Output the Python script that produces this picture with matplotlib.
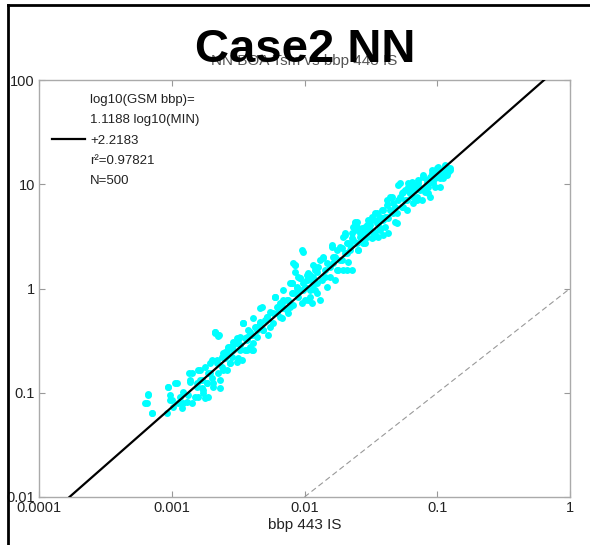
"""Case2 NN: GSM bbp vs in-situ bbp 443, log-log scatter with fit."""

import numpy as np
import matplotlib
matplotlib.use("Agg")
import matplotlib.pyplot as plt
from matplotlib.lines import Line2D

plt.rcParams["font.family"] = ["Liberation Sans", "DejaVu Sans"]

# as log10 values (x = bbp 443 IS, y = GSM bbp)
log_is_a = [-3.201, -3.176, -3.151, -3.038, -3.026, -3.013, -2.963, -2.988, -2.938, -2.913,
            -2.875, -2.863, -2.850, -2.812, -2.800, -2.787, -2.775, -2.762, -2.750, -2.737,
            -2.724, -2.712, -2.699, -2.687, -2.674, -2.649, -2.662, -2.637, -2.624, -2.611,
            -2.586, -2.574, -2.561, -2.536, -2.511, -2.498, -2.486, -2.461, -2.448, -2.436,
            -2.423, -2.411, -2.398, -2.385, -2.373, -2.360, -2.335, -2.335, -2.310, -2.298,
            -2.285, -2.260, -2.235, -2.222, -2.210, -2.185, -2.172, -2.159, -2.134, -2.109,
            -2.097, -2.084, -2.072, -2.059, -2.046, -2.034, -2.021, -2.009, -1.996, -1.984,
            -1.971, -1.959, -1.946, -1.933, -1.921, -1.908, -1.896, -1.883, -1.871, -1.858,
            -1.846, -1.833, -1.808, -1.795, -1.783, -1.770, -1.758, -1.745, -1.733, -1.720,
            -1.707, -1.695, -1.682, -1.670, -1.657, -1.645, -1.632, -1.619, -1.607, -1.594,
            -1.582, -1.569, -1.557, -1.544, -1.532, -1.519, -1.506, -1.494, -1.481, -1.456,
            -1.444, -1.431, -1.419, -1.406, -1.394, -1.381, -1.368, -1.356, -1.343, -1.331,
            -1.318, -1.306, -1.293, -1.281, -1.268, -1.255, -1.243, -1.230, -1.218, -1.205,
            -1.193, -1.180, -1.168, -1.155, -1.142, -1.130, -1.105, -1.092, -1.080, -1.067,
            -1.055, -1.042, -1.029, -1.017, -1.004, -0.992, -0.979, -0.967, -0.954, -0.942,
            -0.929, -0.916, -0.904]
log_nn_a = [-1.101, -1.021, -1.197, -1.197, -0.941, -1.069, -0.909, -1.133, -1.037, -1.101,
            -1.021, -0.877, -0.814, -0.909, -1.037, -0.782, -0.877, -0.973, -0.750, -0.909,
            -1.037, -0.814, -0.686, -0.909, -0.414, -0.446, -0.718, -0.877, -0.654, -0.782,
            -0.622, -0.558, -0.718, -0.590, -0.526, -0.670, -0.462, -0.334, -0.590, -0.494,
            -0.398, -0.558, -0.446, -0.590, -0.366, -0.462, -0.190, -0.334, -0.398, -0.302,
            -0.270, -0.366, -0.238, -0.078, -0.174, -0.270, -0.142, -0.110, -0.206, -0.174,
            0.050, -0.046, 0.226, 0.018, 0.114, -0.014, 0.370, 0.050, -0.110, 0.082,
            0.146, -0.014, -0.142, 0.114, 0.178, 0.050, 0.210, 0.274, 0.082, 0.306,
            0.178, 0.242, 0.114, 0.402, 0.242, 0.306, 0.370, 0.178, 0.402, 0.274,
            0.497, 0.338, 0.178, 0.433, 0.370, 0.529, 0.593, 0.625, 0.433, 0.370,
            0.529, 0.561, 0.433, 0.593, 0.497, 0.657, 0.561, 0.689, 0.497, 0.721,
            0.625, 0.561, 0.753, 0.657, 0.689, 0.849, 0.529, 0.753, 0.881, 0.721,
            0.785, 0.625, 0.849, 1.009, 0.913, 0.785, 0.945, 0.849, 1.009, 0.913,
            0.977, 0.881, 0.993, 0.849, 1.041, 0.945, 1.089, 0.977, 1.009, 0.913,
            1.073, 1.137, 1.041, 0.977, 1.105, 1.169, 1.057, 1.137, 1.089, 1.185,
            1.121, 1.153, 1.137]

log_is_b = [-3.189, -3.176, -3.151, -3.026, -3.013, -3.001, -2.976, -2.950, -2.925, -2.913,
            -2.888, -2.868, -2.863, -2.850, -2.825, -2.812, -2.800, -2.787, -2.775, -2.762,
            -2.750, -2.737, -2.725, -2.712, -2.699, -2.687, -2.674, -2.662, -2.649, -2.642,
            -2.637, -2.624, -2.612, -2.599, -2.586, -2.574, -2.561, -2.549, -2.536, -2.511,
            -2.498, -2.486, -2.473, -2.461, -2.448, -2.436, -2.411, -2.385, -2.360]
log_nn_b = [-1.101, -1.012, -1.191, -0.941, -1.021, -1.069, -0.909, -1.101, -1.149, -0.989,
            -1.085, -0.814, -0.894, -1.101, -1.037, -0.941, -0.782, -0.878, -0.958, -1.006,
            -1.054, -0.909, -0.814, -0.718, -0.862, -0.941, -0.430, -0.686, -0.814, -0.446,
            -0.958, -0.750, -0.622, -0.670, -0.782, -0.574, -0.718, -0.654, -0.542, -0.702,
            -0.494, -0.590, -0.686, -0.334, -0.478, -0.590, -0.446, -0.526, -0.398]

log_is_c = [-2.674, -2.649, -2.599, -2.561, -2.536, -2.511, -2.486, -2.461, -2.436, -2.411,
            -2.398, -2.385, -2.360, -2.335, -2.323, -2.310, -2.285, -2.272, -2.260, -2.235,
            -2.222, -2.210, -2.184, -2.172, -2.159, -2.134, -2.122, -2.109, -2.097, -2.084,
            -2.072, -2.059, -2.046, -2.034, -2.009, -1.984, -1.971, -1.959, -1.933, -1.921,
            -1.908]
log_nn_c = [-0.414, -0.456, -0.606, -0.558, -0.510, -0.478, -0.542, -0.334, -0.462, -0.414,
            -0.590, -0.286, -0.366, -0.318, -0.174, -0.398, -0.270, -0.446, -0.222, -0.334,
            -0.078, -0.238, -0.142, -0.286, -0.190, -0.110, -0.238, 0.050, -0.046, -0.158,
            0.225, 0.002, -0.078, 0.098, -0.014, 0.082, -0.110, 0.130, 0.034, 0.209,
            -0.046]

log_is_d = [-2.222, -2.197, -2.159, -2.122, -2.097, -2.084, -2.072, -2.059, -2.034, -2.021,
            -2.014, -1.996, -1.984, -1.959, -1.946, -1.934, -1.921, -1.908, -1.883, -1.858,
            -1.846, -1.833, -1.808, -1.795, -1.783, -1.770, -1.758, -1.733, -1.720, -1.707,
            -1.695, -1.682, -1.670, -1.657, -1.645, -1.632, -1.620, -1.607, -1.594, -1.582,
            -1.569, -1.544, -1.532, -1.507, -1.494, -1.469, -1.456, -1.431, -1.406, -1.381]
log_nn_d = [-0.078, -0.174, -0.014, -0.110, 0.050, 0.241, 0.161, -0.046, 0.098, -0.142,
            0.353, 0.018, 0.130, -0.078, 0.082, 0.225, -0.014, 0.161, -0.110, 0.289,
            0.114, 0.018, 0.209, 0.417, 0.305, 0.082, 0.177, 0.273, 0.385, 0.177,
            0.513, 0.337, 0.257, 0.417, 0.177, 0.465, 0.561, 0.641, 0.369, 0.497,
            0.577, 0.433, 0.529, 0.609, 0.481, 0.545, 0.657, 0.577, 0.513, 0.689]

log_is_e = [-1.695, -1.682, -1.645, -1.620, -1.607, -1.582, -1.557, -1.532, -1.494, -1.481,
            -1.469, -1.456, -1.444, -1.431, -1.406, -1.394, -1.381, -1.369, -1.356, -1.343,
            -1.331, -1.318, -1.306, -1.293, -1.281, -1.268, -1.256, -1.243, -1.230, -1.218,
            -1.205, -1.193, -1.180, -1.168, -1.155, -1.143, -1.130, -1.117, -1.105, -1.092,
            -1.080, -1.067, -1.055, -1.042, -1.030, -1.017, -1.004, -0.992, -0.979, -0.967,
            -0.954, -0.942, -0.929, -0.916, -0.904]
log_nn_e = [0.529, 0.433, 0.481, 0.641, 0.593, 0.561, 0.497, 0.609, 0.657, 0.545,
            0.721, 0.625, 0.497, 0.689, 0.753, 0.593, 0.801, 0.673, 0.881, 0.737,
            0.817, 0.641, 0.721, 0.993, 0.881, 0.785, 0.929, 0.849, 0.753, 0.977,
            0.913, 1.025, 0.817, 0.945, 0.881, 1.009, 0.961, 0.849, 1.073, 0.929,
            1.041, 0.977, 0.881, 1.105, 1.009, 1.057, 1.153, 1.073, 0.977, 1.121,
            1.057, 1.169, 1.089, 1.121, 1.153]

fit_slope = 1.1188
fit_icept = 2.2183
legend_lines = ["log10(GSM bbp)=", "1.1188 log10(MIN)", "+2.2183", "r²=0.97821", "N=500"]

x_ticks = [1e-4, 1e-3, 1e-2, 1e-1, 1]
x_ticklabels = ["0.0001", "0.001", "0.01", "0.1", "1"]
y_ticks = [1e-2, 1e-1, 1, 10, 100]
y_ticklabels = ["0.01", "0.1", "1", "10", "100"]

bbp_is = 10 ** np.array(log_is_a + log_is_b + log_is_c + log_is_d + log_is_e)
bbp_nn = 10 ** np.array(log_nn_a + log_nn_b + log_nn_c + log_nn_d + log_nn_e)

W, H = 590, 545
fig = plt.figure(figsize=(W / 100, H / 100), dpi=100)
ax = fig.add_axes([39 / W, 1 - 497 / H, 531 / W, 417 / H])

ax.plot(bbp_is, bbp_nn, "o", color="#00ffff", markersize=5.0, markeredgewidth=0, zorder=2)

xfit = np.array([1e-4, 1.0])
ax.plot(xfit, 10 ** (fit_slope * np.log10(xfit) + fit_icept), color="black", lw=1.6, zorder=3)
ax.plot([1e-2, 1], [1e-2, 1], color="#999999", lw=0.8, ls=(0, (5, 3)), zorder=1)

ax.set_xscale("log")
ax.set_yscale("log")
ax.set_xlim(1e-4, 1)
ax.set_ylim(1e-2, 100)
ax.set_xticks(x_ticks, x_ticklabels)
ax.set_yticks(y_ticks, y_ticklabels)
ax.minorticks_off()
ax.tick_params(direction="in", length=4, width=0.8, color="#999999",
               top=True, right=True, labelsize=10.5, labelcolor="#222222", pad=3)
for sp in ax.spines.values():
    sp.set_color("#aaaaaa")
    sp.set_linewidth(1.0)
ax.set_xlabel("bbp 443 IS", fontsize=11, color="#222222", labelpad=2)

# legend block (MATLAB-style text next to a short line sample)
fig.add_artist(Line2D([52 / W, 85 / W], [1 - 139 / H] * 2, color="black", lw=1.6))
for i, s in enumerate(legend_lines):
    fig.text(90 / W, 1 - (100 + 20.3 * i) / H, s, fontsize=9.5, color="#222222",
             va="center", ha="left")

fig.text(304 / W, 1 - 65 / H, "NN BOA Tsm vs bbp 443 IS", fontsize=11, color="#555555",
         ha="center", va="baseline")
fig.text(305 / W, 1 - 62 / H, "Case2 NN", fontsize=34, weight="bold", color="black",
         ha="center", va="baseline")

# slide frame on top and left
fig.add_artist(Line2D([7.5 / W, 1.0], [1 - 4.5 / H] * 2, color="black", lw=2))
fig.add_artist(Line2D([7.5 / W] * 2, [0, 1 - 4.5 / H], color="black", lw=2))

fig.savefig("out.png", dpi=100)
